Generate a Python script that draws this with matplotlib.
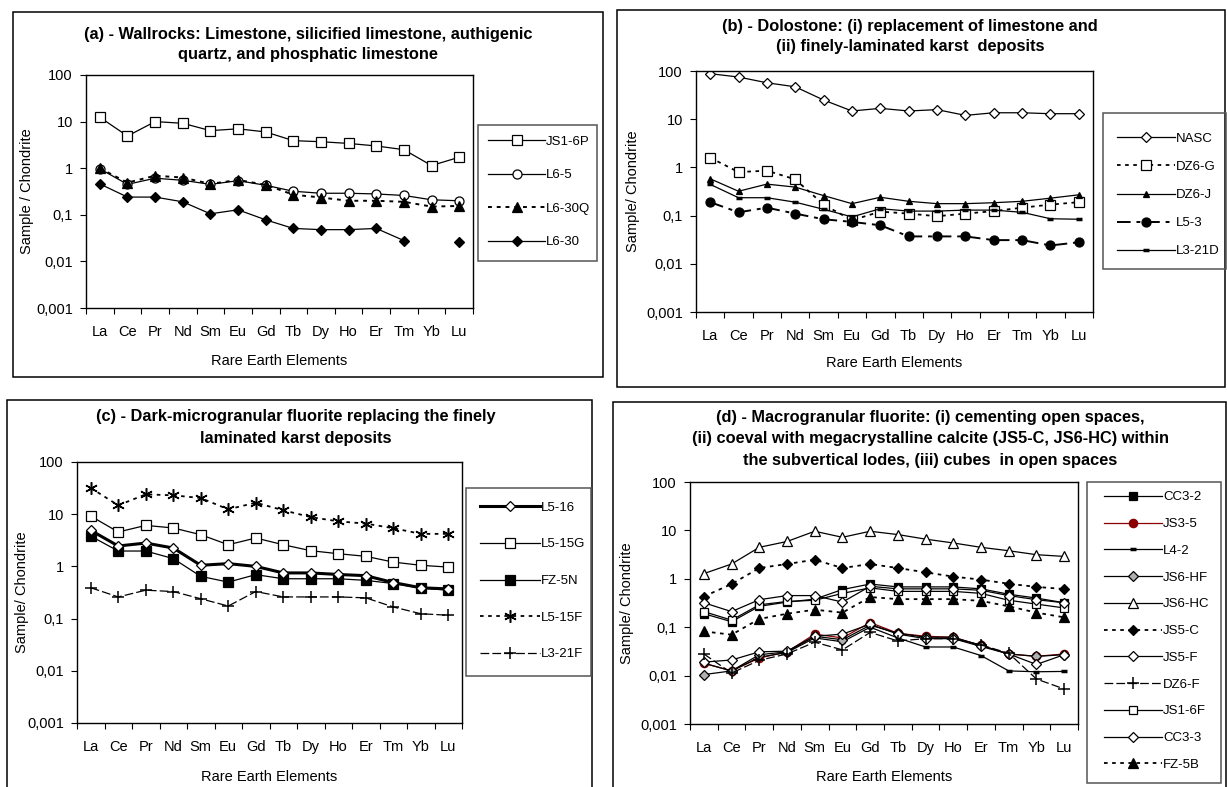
import numpy as np
import matplotlib
matplotlib.use('Agg')
import matplotlib.pyplot as plt
from matplotlib.patches import Rectangle
from matplotlib.ticker import NullLocator

plt.rcParams['font.family'] = ['Liberation Sans', 'DejaVu Sans']

# ---------------- data ----------------
elements = ['La', 'Ce', 'Pr', 'Nd', 'Sm', 'Eu', 'Gd', 'Tb', 'Dy', 'Ho', 'Er', 'Tm', 'Yb', 'Lu']
y_ticks = [0.001, 0.01, 0.1, 1, 10, 100]
y_tick_labels = ['0,001', '0,01', '0,1', '1', '10', '100']

# (a) wallrocks
a_js1_6p = [12.4, 4.9, 10.0, 9.2, 6.4, 7.0, 6.0, 3.9, 3.7, 3.4, 3.0, 2.5, 1.14, 1.72]
a_l6_5 = [0.97, 0.45, 0.61, 0.55, 0.45, 0.54, 0.43, 0.32, 0.29, 0.29, 0.28, 0.26, 0.21, 0.20]
a_l6_30q = [1.0, 0.49, 0.69, 0.63, 0.46, 0.56, 0.44, 0.27, 0.235, 0.20, 0.20, 0.19, 0.15, 0.155]
a_l6_30 = [0.46, 0.24, 0.24, 0.19, 0.105, 0.128, 0.078, 0.051, 0.048, 0.048, 0.051, 0.028, np.nan, 0.026]

# (b) dolostone
b_nasc = [88, 75, 57, 47, 25, 14.8, 16.8, 14.8, 15.8, 12.0, 13.6, 13.6, 13.0, 13.0]
b_dz6_g = [1.59, 0.80, 0.855, 0.565, 0.169, 0.080, 0.121, 0.110, 0.097, 0.110, 0.124, 0.146, 0.169, 0.19]
b_dz6_j = [0.58, 0.32, 0.45, 0.39, 0.26, 0.177, 0.24, 0.198, 0.177, 0.177, 0.185, 0.198, 0.23, 0.27]
b_l5_3 = [0.19, 0.117, 0.146, 0.110, 0.084, 0.074, 0.063, 0.037, 0.037, 0.037, 0.031, 0.031, 0.024, 0.028]
b_l3_21d = [0.445, 0.235, 0.235, 0.19, 0.135, 0.094, 0.139, 0.124, 0.124, 0.13, 0.13, 0.117, 0.086, 0.084]

# (c) dark-microgranular fluorite
c_l5_16 = [4.9, 2.46, 2.8, 2.25, 1.05, 1.13, 1.0, 0.75, 0.75, 0.70, 0.665, 0.49, 0.39, 0.37]
c_l5_15g = [9.2, 4.56, 6.1, 5.45, 4.05, 2.6, 3.5, 2.6, 2.0, 1.75, 1.56, 1.21, 1.05, 0.97]
c_fz_5n = [3.8, 1.97, 1.97, 1.41, 0.645, 0.50, 0.695, 0.58, 0.58, 0.58, 0.54, 0.47, 0.385, 0.35]
c_l5_15f = [31.8, 14.8, 24.0, 23.0, 20.4, 12.4, 16.6, 11.9, 8.8, 7.3, 6.6, 5.4, 4.2, 4.2]
c_l3_21f = [0.39, 0.26, 0.35, 0.33, 0.24, 0.174, 0.33, 0.26, 0.26, 0.26, 0.25, 0.167, 0.124, 0.116]

# (d) macrogranular fluorite
d_cc3_2 = [0.19, 0.13, 0.27, 0.33, 0.38, 0.60, 0.78, 0.68, 0.68, 0.68, 0.62, 0.48, 0.40, 0.32]
d_js3_5 = [0.018, 0.0125, 0.023, 0.031, 0.072, 0.060, 0.125, 0.075, 0.065, 0.062, 0.042, 0.028, 0.025, 0.028]
d_l4_2 = [0.018, 0.0125, 0.024, 0.030, 0.060, 0.050, 0.100, 0.060, 0.039, 0.039, 0.026, 0.0125, 0.012, 0.0122]
d_js6_hf = [0.0105, 0.0125, 0.027, 0.031, 0.065, 0.055, 0.110, 0.075, 0.062, 0.062, 0.042, 0.028, 0.025, 0.027]
d_js6_hc = [1.28, 2.02, 4.47, 5.9, 9.6, 7.2, 9.6, 8.2, 6.6, 5.5, 4.47, 3.8, 3.15, 2.9]
d_js5_c = [0.43, 0.78, 1.67, 2.02, 2.48, 1.67, 2.02, 1.67, 1.36, 1.11, 0.96, 0.79, 0.68, 0.615]
d_js5_f = [0.019, 0.021, 0.031, 0.032, 0.065, 0.072, 0.115, 0.072, 0.058, 0.058, 0.040, 0.028, 0.017, 0.027]
d_dz6_f = [0.028, 0.0113, 0.0207, 0.028, 0.049, 0.034, 0.078, 0.052, 0.058, 0.058, 0.043, 0.029, 0.0085, 0.0053]
d_js1_6f = [0.21, 0.14, 0.29, 0.34, 0.36, 0.50, 0.65, 0.55, 0.55, 0.55, 0.50, 0.36, 0.30, 0.25]
d_cc3_3 = [0.32, 0.21, 0.37, 0.45, 0.45, 0.33, 0.70, 0.62, 0.62, 0.62, 0.58, 0.45, 0.37, 0.32]
d_fz_5b = [0.082, 0.070, 0.148, 0.19, 0.23, 0.20, 0.42, 0.38, 0.38, 0.38, 0.35, 0.27, 0.20, 0.16]

# ---------------- layout helpers ----------------
W, H = 1227, 787
fig = plt.figure(figsize=(W / 100, H / 100), dpi=100)


def rect(l, t, r, b):
    return [l / W, 1 - b / H, (r - l) / W, (b - t) / H]


def frame(l, t, r, b, ec='black', lw=1.1):
    fig.add_artist(Rectangle((l / W, 1 - b / H), (r - l) / W, (b - t) / H,
                             transform=fig.transFigure, fill=False, ec=ec, lw=lw))


x = np.arange(len(elements)) + 0.5

TICK_FS = 10.5
LAB_FS = 10.5
TITLE_FS = 11.8
LEG_FS = 9.5


def setup(ax, ylabel, ylab_dx, xlab_dy):
    ax.set_yscale('log')
    ax.set_ylim(0.001, 100)
    ax.set_yticks(y_ticks)
    ax.set_yticklabels(y_tick_labels)
    ax.yaxis.set_minor_locator(NullLocator())
    ax.set_xlim(0, len(elements))
    ax.set_xticks(np.arange(len(elements) + 1))
    ax.set_xticklabels([])
    ax.set_xticks(x, minor=True)
    ax.set_xticklabels(elements, minor=True)
    ax.tick_params(axis='x', which='major', direction='out', length=4, width=0.8)
    ax.tick_params(axis='x', which='minor', length=0, pad=12, labelsize=TICK_FS)
    ax.tick_params(axis='y', which='major', direction='out', length=4, width=0.8,
                   pad=5.5, labelsize=TICK_FS)
    for s in ax.spines.values():
        s.set_linewidth(1.0)
        s.set_color('black')
    bb = ax.get_position()
    axw = bb.width * W
    axh = bb.height * H
    ax.set_ylabel(ylabel, fontsize=LAB_FS, va='center')
    ax.yaxis.set_label_coords(-ylab_dx / axw, 0.5)
    ax.set_xlabel('Rare Earth Elements', fontsize=LAB_FS, va='center')
    ax.xaxis.set_label_coords(0.5, -xlab_dy / axh)


def legend(ax, handles, x0, yc, spacing, hlen_px):
    fs_px = LEG_FS * 100 / 72
    leg = ax.legend(handles=handles, loc='center left',
                    bbox_to_anchor=(x0 / W, 1 - yc / H, 0.001, 0.0),
                    bbox_transform=fig.transFigure, frameon=False, fontsize=LEG_FS,
                    handlelength=hlen_px / fs_px, handletextpad=0.1,
                    labelspacing=spacing, numpoints=1, borderpad=0, borderaxespad=0)
    return leg


def plot(ax, vals, label, marker, mfc='black', mec='black', ms=6, ls='-', lw=0.9,
         color='black', mew=0.9, z=2):
    line, = ax.plot(x, vals, ls=ls, lw=lw, color=color, marker=marker, mfc=mfc,
                    mec=mec, ms=ms, mew=mew, label=label, zorder=z)
    return line


DOT = (0, (2, 2.5))
DASHDOT = (0, (7, 3, 2, 3))
LONGDASH = (0, (7, 2.5))


def title(xc, ys, lines):
    for yy, s in zip(ys, lines):
        fig.text(xc / W, 1 - yy / H, s, ha='center', va='center',
                 fontsize=TITLE_FS, fontweight='bold')


# ---------------- panel frames ----------------
frame(13, 12, 603, 377)
frame(617, 10, 1225, 387)
frame(7, 400, 592, 790)
frame(613, 402, 1226, 790)

# ---------------- (a) ----------------
ax = fig.add_axes(rect(86, 75, 473, 308))
setup(ax, 'Sample / Chondrite', 59, 53)
h = [
    plot(ax, a_js1_6p, 'JS1-6P', 's', mfc='white', ms=6.5),
    plot(ax, a_l6_5, 'L6-5', 'o', mfc='white', ms=6.5),
    plot(ax, a_l6_30q, 'L6-30Q', '^', ms=6.5, ls=DOT, lw=1.4),
    plot(ax, a_l6_30, 'L6-30', 'D', ms=5.5),
]
frame(478, 125, 597, 261, ec='#555555')
legend(ax, h, 488, 192, 1.6, 57)
title(308, [34, 54], ['(a) - Wallrocks: Limestone, silicified limestone, authigenic',
                      'quartz, and phosphatic limestone'])

# ---------------- (b) ----------------
ax = fig.add_axes(rect(696, 71, 1093, 312))
setup(ax, 'Sample/ Chondrite', 63, 51)
h = [
    plot(ax, b_nasc, 'NASC', 'D', mfc='white', ms=5.5),
    plot(ax, b_dz6_g, 'DZ6-G', 's', mfc='white', ms=6.5, ls=DOT, lw=1.3),
    plot(ax, b_dz6_j, 'DZ6-J', '^', ms=5),
    plot(ax, b_l5_3, 'L5-3', 'o', ms=6.5, ls=DASHDOT, lw=1.4),
    plot(ax, b_l3_21d, 'L3-21D', '_', ms=5, mew=2.5),
]
frame(1103, 113, 1226, 269, ec='#555555')
legend(ax, h, 1117, 195, 1.2, 58)
title(910, [26, 47], ['(b) - Dolostone: (i) replacement of limestone and',
                      '(ii) finely-laminated karst  deposits'])

# ---------------- (c) ----------------
ax = fig.add_axes(rect(77, 462, 462, 723))
setup(ax, 'Sample/ Chondrite', 55, 54)
h = [
    plot(ax, c_l5_16, 'L5-16', 'D', mfc='white', ms=5.5, lw=2.2, z=4),
    plot(ax, c_l5_15g, 'L5-15G', 's', mfc='white', ms=6.5),
    plot(ax, c_fz_5n, 'FZ-5N', 's', ms=6.5, z=3),
    plot(ax, c_l5_15f, 'L5-15F', (6, 2, 0), ms=9, ls=DOT, lw=1.3, mew=1.1),
    plot(ax, c_l3_21f, 'L3-21F', '+', ms=9, ls=LONGDASH, mew=1.1),
]
frame(466, 488, 591, 676, ec='#555555')
legend(ax, h, 480, 581, 1.85, 60)
title(296, [416, 438], ['(c) - Dark-microgranular fluorite replacing the finely',
                        'laminated karst deposits'])

# ---------------- (d) ----------------
ax = fig.add_axes(rect(690, 482, 1078, 724))
setup(ax, 'Sample/ Chondrite', 63, 53)
h = [
    plot(ax, d_cc3_2, 'CC3-2', 's', ms=6),
    plot(ax, d_js3_5, 'JS3-5', 'o', mfc='#8b0000', mec='#8b0000', color='#8b0000', ms=6),
    plot(ax, d_l4_2, 'L4-2', '_', ms=5, mew=2.5),
    plot(ax, d_js6_hf, 'JS6-HF', 'D', mfc='#b0b0b0', ms=5.5),
    plot(ax, d_js6_hc, 'JS6-HC', '^', mfc='white', ms=7),
    plot(ax, d_js5_c, 'JS5-C', 'D', ms=5.5, ls=DOT, lw=1.3),
    plot(ax, d_js5_f, 'JS5-F', 'D', mfc='white', ms=5.5),
    plot(ax, d_dz6_f, 'DZ6-F', '+', ms=9, ls=LONGDASH, mew=1.1),
    plot(ax, d_js1_6f, 'JS1-6F', 's', mfc='white', ms=6),
    plot(ax, d_cc3_3, 'CC3-3', 'D', mfc='white', ms=5),
    plot(ax, d_fz_5b, 'FZ-5B', '^', ms=6.5, ls=DOT, lw=1.3),
]
frame(1087, 482, 1221, 783, ec='#555555')
legend(ax, h, 1104, 631, 1.1, 58)
title(930, [418, 439, 460], ['(d) - Macrogranular fluorite: (i) cementing open spaces,',
                             '(ii) coeval with megacrystalline calcite (JS5-C, JS6-HC) within',
                             'the subvertical lodes, (iii) cubes  in open spaces'])

fig.savefig('out.png', dpi=100)
